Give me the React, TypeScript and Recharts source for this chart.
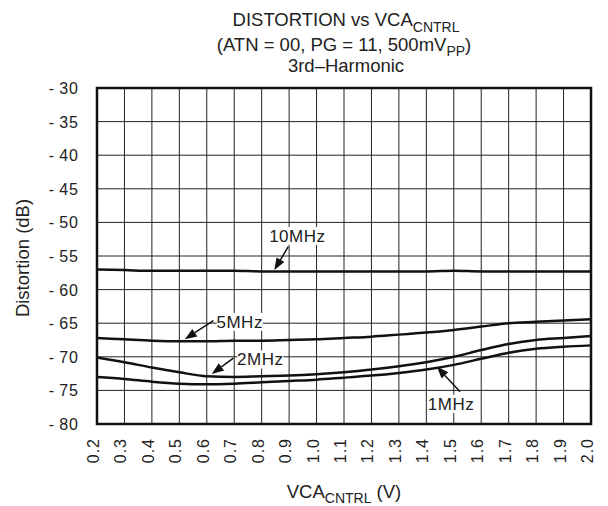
import React from 'react';
import {
  LineChart,
  Line,
  XAxis,
  YAxis,
  CartesianGrid,
  ReferenceArea,
  ReferenceLine,
  ReferenceDot,
} from 'recharts';

const FONT = '"Liberation Sans", Arial, Helvetica, sans-serif';

// VCA control voltage (V)
const vcaControl = [0.2, 0.3, 0.4, 0.5, 0.6, 0.7, 0.8, 0.9, 1.0, 1.1, 1.2, 1.3, 1.4, 1.5, 1.6, 1.7, 1.8, 1.9, 2.0];
const xTickLabels = ['0.2', '0.3', '0.4', '0.5', '0.6', '0.7', '0.8', '0.9', '1.0', '1.1', '1.2', '1.3', '1.4', '1.5', '1.6', '1.7', '1.8', '1.9', '2.0'];
const yTicks = [-80, -75, -70, -65, -60, -55, -50, -45, -40, -35, -30];

// Distortion (dB), 3rd harmonic
const dist10MHz = [-57.0, -57.1, -57.2, -57.2, -57.2, -57.2, -57.3, -57.3, -57.3, -57.3, -57.3, -57.3, -57.3, -57.2, -57.3, -57.3, -57.3, -57.3, -57.3];
const dist5MHz = [-67.2, -67.4, -67.6, -67.7, -67.7, -67.6, -67.6, -67.5, -67.4, -67.2, -67.0, -66.7, -66.4, -66.0, -65.5, -65.0, -64.8, -64.6, -64.4];
const dist2MHz = [-70.1, -70.8, -71.6, -72.3, -72.9, -73.0, -72.9, -72.8, -72.6, -72.3, -71.9, -71.4, -70.8, -70.0, -69.0, -68.1, -67.5, -67.2, -66.9];
const dist1MHz = [-73.0, -73.3, -73.7, -74.0, -74.1, -74.0, -73.8, -73.6, -73.4, -73.1, -72.8, -72.4, -71.9, -71.2, -70.3, -69.4, -68.8, -68.5, -68.3];

// Annotations: label position and arrow (data coordinates)
const seriesLabels = ['10MHz', '5MHz', '2MHz', '1MHz'];
const labelX = [0.93, 0.72, 0.795, 1.49];
const labelY = [-52.0, -64.8, -70.4, -77.0];
const arrowFromX = [0.897, 0.624, 0.697, 1.523];
const arrowFromY = [-53.6, -64.6, -70.2, -75.2];
const arrowToX = [0.846, 0.52, 0.618, 1.438];
const arrowToY = [-57.1, -67.4, -72.56, -71.46];

const data = vcaControl.map((v, i) => ({
  v,
  d10: dist10MHz[i],
  d5: dist5MHz[i],
  d2: dist2MHz[i],
  d1: dist1MHz[i],
}));

const XTick = (props: any) => {
  const { x, y, payload } = props;
  const idx = vcaControl.indexOf(payload.value);
  const label = idx >= 0 ? xTickLabels[idx] : String(payload.value);
  const bx = x + 2;
  const by = y + 14;
  return (
    <text
      x={bx}
      y={by}
      transform={`rotate(-90 ${bx} ${by})`}
      textAnchor="end"
      fontSize={16}
      letterSpacing={1}
      fontFamily={FONT}
      fill="#222"
    >
      {label}
    </text>
  );
};

const YTick = (props: any) => {
  const { x, y, payload } = props;
  const v = payload.value as number;
  return (
    <text x={x} y={y} dy={6} textAnchor="end" fontSize={16} letterSpacing={1} fontFamily={FONT} fill="#222">
      {(v < 0 ? '-\u2009' : '') + Math.abs(v)}
    </text>
  );
};

const Arrow = (props: any) => {
  const { x1, y1, x2, y2 } = props;
  if ([x1, y1, x2, y2].some((n) => typeof n !== 'number' || isNaN(n))) return null;
  const dx = x2 - x1;
  const dy = y2 - y1;
  const len = Math.sqrt(dx * dx + dy * dy) || 1;
  const ux = dx / len;
  const uy = dy / len;
  const hl = 12;
  const hw = 4.5;
  const bx = x2 - ux * hl;
  const by = y2 - uy * hl;
  const p1 = `${bx - uy * hw},${by + ux * hw}`;
  const p2 = `${bx + uy * hw},${by - ux * hw}`;
  return (
    <g>
      <line x1={x1} y1={y1} x2={bx} y2={by} stroke="#111" strokeWidth={1.5} />
      <polygon points={`${x2},${y2} ${p1} ${p2}`} fill="#111" />
    </g>
  );
};

const makeLabel = (text: string) => (props: any) => {
  const { cx, cy } = props;
  const w = text.length * 10.5 + 4;
  const h = 18;
  return (
    <g>
      <rect x={cx - w / 2} y={cy - h / 2} width={w} height={h} fill="#fff" />
      <text x={cx} y={cy} dy={6} textAnchor="middle" fontSize={17} letterSpacing={0.5} fontFamily={FONT} fill="#222">
        {text}
      </text>
    </g>
  );
};

export default function App() {
  return (
    <div style={{ position: 'absolute', left: 0, top: 0, width: 608, height: 506, background: '#fff', fontFamily: FONT }}>
      <LineChart width={608} height={506} data={data} margin={{ top: 88, right: 17, bottom: 0, left: 0 }}>
        <CartesianGrid stroke="#222" strokeWidth={1} />
        <XAxis
          dataKey="v"
          type="number"
          domain={[0.2, 2.0]}
          ticks={vcaControl}
          interval={0}
          height={82}
          axisLine={false}
          tickLine={false}
          tickSize={0}
          tickMargin={0}
          tick={<XTick />}
        />
        <YAxis
          type="number"
          domain={[-80, -30]}
          ticks={yTicks}
          interval={0}
          width={97}
          axisLine={false}
          tickLine={false}
          tickSize={0}
          tickMargin={18}
          tick={<YTick />}
        />
        {seriesLabels.map((s, i) => (
          <ReferenceDot key={'lbl' + s} x={labelX[i]} y={labelY[i]} r={0} shape={makeLabel(s)} ifOverflow="visible" />
        ))}
        <Line type="monotone" dataKey="d10" stroke="#111" strokeWidth={2.5} dot={false} isAnimationActive={false} />
        <Line type="monotone" dataKey="d5" stroke="#111" strokeWidth={2.5} dot={false} isAnimationActive={false} />
        <Line type="monotone" dataKey="d2" stroke="#111" strokeWidth={2.5} dot={false} isAnimationActive={false} />
        <Line type="monotone" dataKey="d1" stroke="#111" strokeWidth={2.5} dot={false} isAnimationActive={false} />
        {seriesLabels.map((s, i) => (
          <ReferenceLine
            key={'arr' + s}
            segment={[
              { x: arrowFromX[i], y: arrowFromY[i] },
              { x: arrowToX[i], y: arrowToY[i] },
            ]}
            shape={<Arrow />}
            ifOverflow="visible"
          />
        ))}
        <ReferenceArea x1={0.2} x2={2.0} y1={-80} y2={-30} fill="none" fillOpacity={0} stroke="#111" strokeWidth={2.5} ifOverflow="visible" />
      </LineChart>
      <svg width={608} height={506} style={{ position: 'absolute', left: 0, top: 0, pointerEvents: 'none' }}>
        <text x={346} y={25.5} textAnchor="middle" fontSize={18.5} fontFamily={FONT} fill="#222">
          DISTORTION vs VCA
          <tspan fontSize={14} dy={6}>CNTRL</tspan>
        </text>
        <text x={344} y={50.5} textAnchor="middle" fontSize={18.5} fontFamily={FONT} fill="#222">
          (ATN = 00, PG = 11, 500mV
          <tspan fontSize={14} dy={5}>PP</tspan>
          <tspan dy={-5}>)</tspan>
        </text>
        <text x={346} y={71.5} textAnchor="middle" fontSize={18.5} fontFamily={FONT} fill="#222">
          3rd–Harmonic
        </text>
        <text x={344} y={498} textAnchor="middle" fontSize={18.5} fontFamily={FONT} fill="#222">
          VCA
          <tspan fontSize={14} dy={5}>CNTRL</tspan>
          <tspan dy={-5}> (V)</tspan>
        </text>
        <text x={29} y={258} transform="rotate(-90 29 258)" textAnchor="middle" fontSize={18.5} fontFamily={FONT} fill="#222">
          Distortion (dB)
        </text>
      </svg>
    </div>
  );
}
